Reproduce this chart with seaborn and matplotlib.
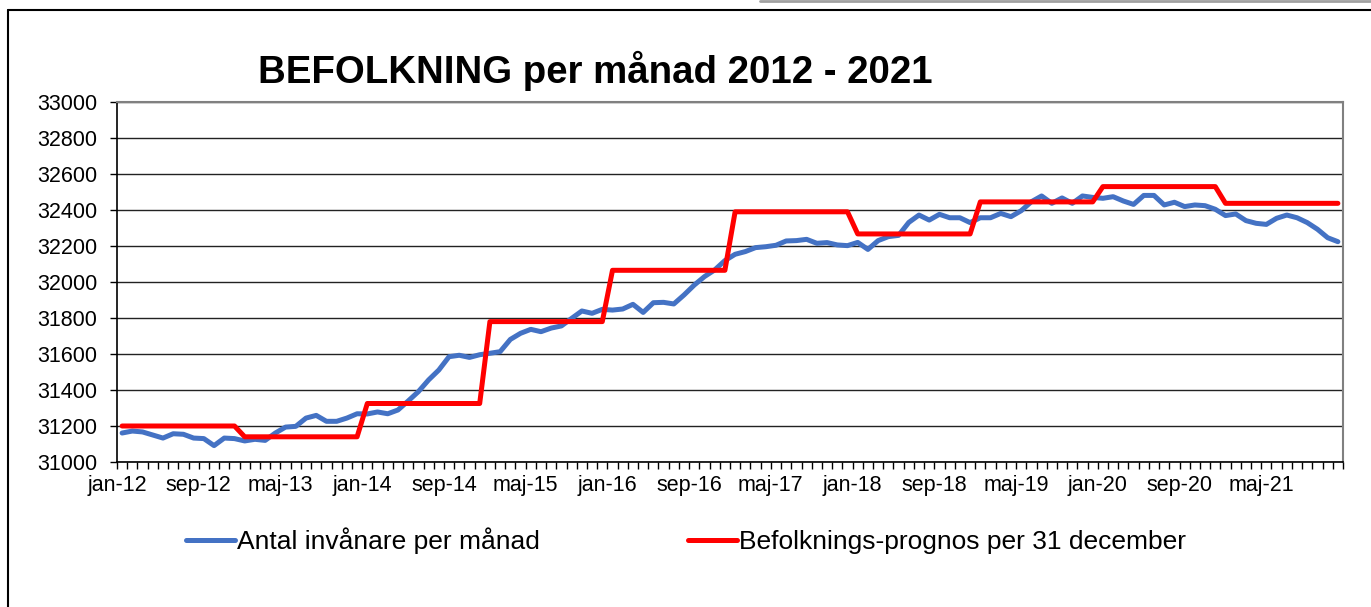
import numpy as np
import pandas as pd
import seaborn as sns
import matplotlib.pyplot as plt
from matplotlib.lines import Line2D
from matplotlib.ticker import MultipleLocator, FixedLocator

sns.set_style("white")
plt.rcParams['font.family'] = ['Liberation Sans', 'DejaVu Sans']
plt.rcParams['text.color'] = 'black'
plt.rcParams['xtick.color'] = 'black'
plt.rcParams['ytick.color'] = 'black'

# månader jan-12 .. dec-21
years = [2012, 2013, 2014, 2015, 2016, 2017, 2018, 2019, 2020, 2021]
month_names = ["jan", "feb", "mar", "apr", "maj", "jun",
               "jul", "aug", "sep", "okt", "nov", "dec"]

# antal invånare per månad
invanare = [
    31161, 31172, 31167, 31150, 31133, 31157, 31154, 31133, 31130, 31091, 31133, 31130,
    31117, 31126, 31120, 31161, 31194, 31198, 31244, 31259, 31226, 31226, 31244, 31268,
    31267, 31278, 31268, 31289, 31339, 31391, 31456, 31511, 31585, 31593, 31581, 31596,
    31604, 31613, 31681, 31715, 31737, 31724, 31744, 31756, 31798, 31839, 31826, 31848,
    31844, 31850, 31876, 31831, 31885, 31887, 31878, 31928, 31983, 32030, 32067, 32119,
    32154, 32169, 32191, 32196, 32204, 32228, 32230, 32237, 32215, 32219, 32206, 32202,
    32220, 32181, 32230, 32252, 32259, 32331, 32372, 32344, 32376, 32357, 32357, 32330,
    32357, 32357, 32381, 32363, 32396, 32446, 32478, 32437, 32467, 32437, 32478, 32470,
    32465, 32474, 32450, 32431, 32481, 32481, 32428, 32443, 32419, 32428, 32424, 32404,
    32369, 32378, 32341, 32326, 32320, 32354, 32372, 32357, 32330, 32293, 32246, 32224,
]

# befolkningsprognos per 31 december, ett värde per år
prognos_ar = [31200, 31140, 31325, 31780, 32065, 32390, 32267, 32445, 32530, 32437]

labels = [f"{m}-{str(y)[2:]}" for y in years for m in month_names]
df = pd.DataFrame({
    "idx": np.arange(len(labels)),
    "Antal invånare per månad": invanare,
    "Befolknings-prognos per 31 december": np.repeat(prognos_ar, 12),
})
long = df.melt(id_vars="idx", var_name="serie", value_name="antal")

fig = plt.figure(figsize=(13.71, 6.07), dpi=100)
ax = fig.add_axes([117 / 1371, 1 - 462 / 607, 1226 / 1371, 360 / 607])

sns.lineplot(data=long, x="idx", y="antal", hue="serie",
             palette=["#4472C4", "#FF0000"], linewidth=3.6, ax=ax,
             legend=False)

ax.set_xlim(-0.5, len(labels) - 0.5)
ax.set_ylim(31000, 33000)
ax.yaxis.set_major_locator(MultipleLocator(200))
ax.grid(axis="y", color="#222222", linewidth=1.0)
ax.set_axisbelow(True)

# x-axel: streck mellan varje månad, etikett var 8:e månad
lab_pos = [i - 0.5 for i in range(0, len(labels), 8)]
ax.xaxis.set_major_locator(FixedLocator(lab_pos))
ax.set_xticklabels([labels[i] for i in range(0, len(labels), 8)])
ax.xaxis.set_minor_locator(FixedLocator(np.arange(-0.5, len(labels), 1)))
ax.tick_params(axis="x", which="both", direction="out", length=5, width=1,
               color="black", bottom=True, labelsize=15.5, pad=4)
ax.tick_params(axis="y", direction="out", length=5, width=1, color="black",
               left=True, labelsize=15.5, pad=9)
ax.set_xlabel("")
ax.set_ylabel("")

for s in ["left", "bottom"]:
    ax.spines[s].set_color("black")
    ax.spines[s].set_linewidth(1.2)
for s in ["right", "top"]:
    ax.spines[s].set_color("#808080")
    ax.spines[s].set_linewidth(1.5)

fig.text(595 / 1371, 1 - 71 / 607, "BEFOLKNING per månad 2012 - 2021",
         ha="center", va="center", fontsize=27.6, fontweight="bold", color="black")

handles = [Line2D([], [], color="#4472C4", linewidth=3.6),
           Line2D([], [], color="#FF0000", linewidth=3.6)]
fig.legend(handles, ["Antal invånare per månad", "Befolknings-prognos per 31 december"],
           loc="center", bbox_to_anchor=(686 / 1371, 1 - 541 / 607), ncol=2,
           frameon=False, fontsize=19, handlelength=1.85, handletextpad=0.1,
           columnspacing=5.6)

# ram runt diagrammet
fig.add_artist(Line2D([8 / 1371, 8 / 1371], [0, 1 - 10 / 607], color="black",
                      linewidth=1.5, transform=fig.transFigure))
fig.add_artist(Line2D([8 / 1371, 1], [1 - 10 / 607, 1 - 10 / 607], color="black",
                      linewidth=1.5, transform=fig.transFigure))
fig.add_artist(Line2D([760 / 1371, 1], [1 - 1 / 607, 1 - 1 / 607], color="#A0A0A0",
                      linewidth=2, transform=fig.transFigure))

fig.savefig("out.png", dpi=100)
